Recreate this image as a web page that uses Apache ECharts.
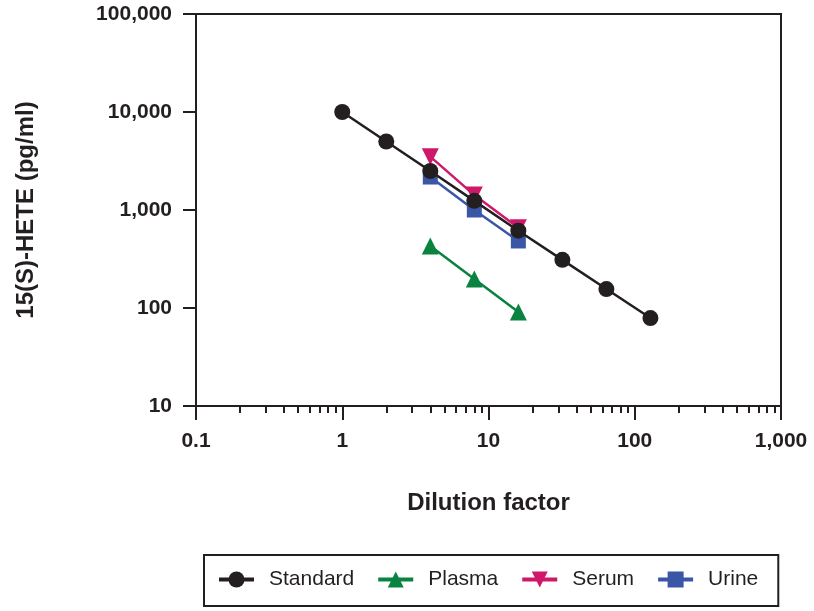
<!DOCTYPE html>
<html>
<head>
<meta charset="utf-8">
<script src="https://cdn.jsdelivr.net/npm/echarts@6/dist/echarts.min.js"></script>
<style>
  html, body { margin: 0; padding: 0; background: #fff; }
  #main { width: 814px; height: 611px; }
</style>
</head>
<body>
<div id="main"></div>
<script>
// dilution factors
var dilution = [1, 2, 4, 8, 16, 32, 64, 128]
var sampleDilution = [4, 8, 16]

// 15(S)-HETE measured (pg/ml)
var standard = [10000, 5000, 2500, 1240, 615, 310, 156, 79]
var plasma = [430, 198, 91]
var serum = [3500, 1420, 660]
var urine = [2170, 1000, 483]

var minorTicks = [0.2, 0.3, 0.4, 0.5, 0.6, 0.7, 0.8, 0.9,
  2, 3, 4, 5, 6, 7, 8, 9,
  20, 30, 40, 50, 60, 70, 80, 90,
  200, 300, 400, 500, 600, 700, 800, 900]

var ink = '#231f20'
var font = 'Liberation Sans, Arial, Helvetica, sans-serif'

function pairs(xs, ys) {
  return xs.map(function (x, i) { return [x, ys[i]] })
}

function fmt(v) {
  return v >= 1 ? Number(v).toLocaleString('en-US') : String(v)
}

var chart = echarts.init(document.getElementById('main'))

function lineSeries(name, xs, ys, color, symbol, size, z) {
  return {
    name: name,
    type: 'line',
    data: pairs(xs, ys),
    symbol: symbol,
    symbolSize: size,
    showAllSymbol: true,
    lineStyle: { color: color, width: 2.5 },
    itemStyle: { color: color },
    emphasis: { disabled: true },
    z: z
  }
}

chart.setOption({
  animation: false,
  textStyle: { fontFamily: font },
  grid: {
    left: 196,
    right: 33,
    top: 14,
    bottom: 205,
    show: true,
    borderColor: ink,
    borderWidth: 2
  },
  legend: {
    left: 204,
    top: 555,
    padding: [14, 20, 16, 13],
    borderColor: ink,
    borderWidth: 2,
    itemWidth: 35,
    itemHeight: 20,
    itemGap: 22,
    lineStyle: { width: 4 },
    textStyle: { fontSize: 21, color: ink, fontFamily: font, padding: [0, 0, 0, 10] },
    data: ['Standard', 'Plasma', 'Serum', 'Urine']
  },
  xAxis: [
    {
      type: 'log',
      logBase: 10,
      min: 0.1,
      max: 1000,
      name: 'Dilution factor',
      nameLocation: 'middle',
      nameGap: 85,
      nameTextStyle: { fontSize: 24, fontWeight: 'bold', color: ink },
      axisLine: { onZero: false, lineStyle: { color: ink, width: 2 } },
      axisTick: { inside: false, length: 14, lineStyle: { color: ink, width: 2 } },
      axisLabel: {
        margin: 25,
        fontSize: 21,
        fontWeight: 'bold',
        color: ink,
        formatter: fmt
      },
      splitLine: { show: false },
      minorTick: { show: false }
    },
    {
      type: 'log',
      logBase: 10,
      min: 0.1,
      max: 1000,
      position: 'bottom',
      axisLine: { show: false },
      axisTick: {
        show: true,
        length: 7,
        customValues: minorTicks,
        lineStyle: { color: ink, width: 2 }
      },
      axisLabel: { show: false },
      splitLine: { show: false }
    }
  ],
  yAxis: {
    type: 'log',
    logBase: 10,
    min: 10,
    max: 100000,
    name: '15(S)-HETE (pg/ml)',
    nameLocation: 'middle',
    nameGap: 158,
    nameRotate: 90,
    nameTextStyle: { fontSize: 24, fontWeight: 'bold', color: ink },
    axisLine: { onZero: false, lineStyle: { color: ink, width: 2 } },
    axisTick: { length: 13, lineStyle: { color: ink, width: 2 } },
    axisLabel: {
      margin: 24,
      fontSize: 21,
      fontWeight: 'bold',
      color: ink,
      formatter: fmt
    },
    splitLine: { show: false }
  },
  series: [
    lineSeries('Standard', dilution, standard, ink, 'circle', 16, 5),
    lineSeries('Plasma', sampleDilution, plasma, '#0a8341', 'triangle', 17, 3),
    lineSeries('Serum', sampleDilution, serum, '#d0186b', 'path://M0,0 L10,0 L5,9 Z', 17, 3),
    lineSeries('Urine', sampleDilution, urine, '#3a56a6', 'rect', 15, 3)
  ]
})
</script>
</body>
</html>
